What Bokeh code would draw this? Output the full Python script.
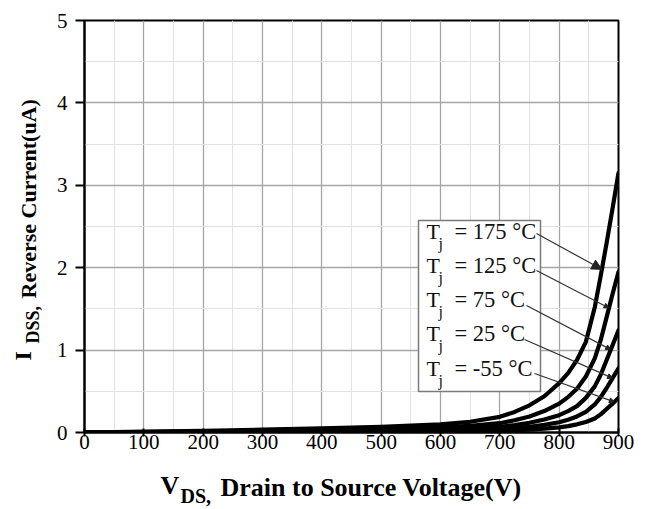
import numpy as np
from bokeh.plotting import figure
from bokeh.layouts import row, column
from bokeh.models import Range1d, FixedTicker, Label, Arrow, NormalHead, ColumnDataSource
from bokeh.core.properties import value
from bokeh.embed import file_html
from bokeh.resources import INLINE

# ---------------- data ----------------
vds = [0, 100, 200, 300, 400, 500, 600, 650, 700, 725, 750, 775, 800,
       815, 830, 845, 860, 870, 880, 890, 900]
i_175 = [0.0, 0.010, 0.020, 0.035, 0.050, 0.070, 0.100, 0.130, 0.190, 0.250, 0.330,
         0.440, 0.600, 0.720, 0.880, 1.100, 1.520, 1.900, 2.300, 2.720, 3.150]
i_125 = [0.0, 0.006, 0.012, 0.021, 0.030, 0.043, 0.062, 0.080, 0.113, 0.148, 0.195,
         0.260, 0.350, 0.430, 0.530, 0.680, 0.900, 1.120, 1.400, 1.680, 1.950]
i_75 = [0.0, 0.004, 0.008, 0.013, 0.019, 0.027, 0.039, 0.050, 0.070, 0.090, 0.118,
        0.157, 0.210, 0.260, 0.320, 0.420, 0.560, 0.700, 0.880, 1.060, 1.240]
i_25 = [0.0, 0.0025, 0.005, 0.008, 0.012, 0.017, 0.024, 0.031, 0.042, 0.054, 0.070,
        0.093, 0.125, 0.155, 0.195, 0.250, 0.340, 0.430, 0.540, 0.660, 0.780]
i_m55 = [0.0, 0.0013, 0.0026, 0.0045, 0.0065, 0.009, 0.013, 0.016, 0.021, 0.027, 0.035,
         0.046, 0.062, 0.078, 0.099, 0.128, 0.170, 0.220, 0.285, 0.350, 0.420]

temps = ["175", "125", "75", "25", "-55"]
series = [i_175, i_125, i_75, i_25, i_m55]
arrow_v = [872, 884, 887, 890, 893]

x_ticks = [0, 100, 200, 300, 400, 500, 600, 700, 800, 900]
x_minor = [50, 150, 250, 350, 450, 550, 650, 750, 850]
y_ticks = [0, 1, 2, 3, 4, 5]
y_minor = [0.5, 1.5, 2.5, 3.5, 4.5]

x_title = ["V", "DS,", "Drain to Source Voltage(V)"]
y_title = ["I", "DSS,", "Reverse Current(uA)"]

# ---------------- layout helpers (page px -> data) ----------------
def xd(px):
    return (px - 84) * 900.0 / 534.0

def yd(py):
    return (432 - py) * 5.0 / 412.0

SERIF = "Liberation Serif"
LEFT_W = 50       # width of the y-title strip
MAIN_W = 593
MAIN_H = 466
BOT_H = 42
BL = 84 - LEFT_W              # main figure left border
BR = MAIN_W - BL - 534        # main figure right border

p = figure(width=MAIN_W, height=MAIN_H, x_range=Range1d(0, 900), y_range=Range1d(0, 5),
           output_backend="svg", toolbar_location=None,
           min_border_left=BL, min_border_right=BR,
           min_border_top=20, min_border_bottom=MAIN_H - 432)
p.background_fill_color = "white"
p.border_fill_color = "white"
p.outline_line_color = "black"
p.outline_line_width = 2

p.xaxis.ticker = FixedTicker(ticks=x_ticks, minor_ticks=x_minor)
p.yaxis.ticker = FixedTicker(ticks=y_ticks, minor_ticks=y_minor)
for ax in (p.xaxis[0], p.yaxis[0]):
    ax.axis_line_width = 2
    ax.axis_line_color = "black"
    ax.major_tick_line_width = 2
    ax.major_tick_line_color = "black"
    ax.minor_tick_line_color = None
    ax.major_label_text_font = SERIF
    ax.major_label_text_font_size = "21px"
    ax.major_label_text_color = "black"
p.xaxis.major_tick_in = 4
p.xaxis.major_tick_out = 4
p.xaxis.major_label_standoff = -2
p.yaxis.major_tick_in = 0
p.yaxis.major_tick_out = 9
p.yaxis.major_label_standoff = 8

p.xgrid.grid_line_color = "#a6a6a6"
p.ygrid.grid_line_color = "#a6a6a6"
p.xgrid.grid_line_width = 1.3
p.ygrid.grid_line_width = 1.3
p.xgrid.minor_grid_line_color = "#e2e2e2"
p.ygrid.minor_grid_line_color = "#e2e2e2"
p.xgrid.minor_grid_line_width = 1
p.ygrid.minor_grid_line_width = 1

# legend box
p.quad(left=[xd(418)], right=[xd(540)], bottom=[yd(391)], top=[yd(220)],
       fill_color="white", line_color="#7a7a7a", line_width=1.5)

# curves
for s in series:
    p.line(vds, s, line_width=4.2, color="black", line_join="round", line_cap="round")

# legend texts and leader arrows
starts_px = [(536, 233), (536, 270), (526, 305), (524, 339), (534, 373)]
for k, t in enumerate(temps):
    base = 243 + k * 34.3
    p.add_layout(Label(x=xd(426), y=yd(base), text="T", text_font=SERIF,
                       text_font_size="22px", text_color="#111111"))
    p.add_layout(Label(x=xd(438), y=yd(base + 8), text="j", text_font=SERIF,
                       text_font_size="16px", text_color="#111111"))
    p.add_layout(Label(x=xd(454), y=yd(base), text="= " + t + " \u00b0C", text_font=SERIF,
                       text_font_size="22.5px", text_color="#111111"))
    sx, sy = starts_px[k]
    ve = arrow_v[k]
    ie = float(np.interp(ve, vds, series[k]))
    head = NormalHead(size=10 if k == 0 else 5, fill_color="#222222",
                      line_color="#222222", line_width=1)
    p.add_layout(Arrow(x_start=xd(sx), y_start=yd(sy), x_end=ve, y_end=ie, end=head,
                       line_color="#333333", line_width=1.2))

# ---------------- x-axis title strip (coordinates = page px) ----------------
total_h = MAIN_H + BOT_H
px_ = figure(width=MAIN_W, height=BOT_H, x_range=Range1d(84, 618),
             y_range=Range1d(total_h, MAIN_H), output_backend="svg", toolbar_location=None,
             x_axis_type=None, y_axis_type=None, min_border=0,
             min_border_left=BL, min_border_right=BR)
px_.outline_line_color = None
px_.grid.visible = False
xt_src = ColumnDataSource(dict(x=[160, 180, 220], y=[485, 495, 487], text=x_title,
                               size=["26px", "20px", "26px"]))
px_.text(x="x", y="y", text="text", source=xt_src, text_font=value(SERIF),
         text_font_style="bold", text_font_size="size", text_color="black",
         text_align="left", text_baseline="alphabetic")

# ---------------- y-axis title strip ----------------
py_ = figure(width=LEFT_W, height=MAIN_H, x_range=Range1d(0, LEFT_W),
             y_range=Range1d(MAIN_H, 0), output_backend="svg", toolbar_location=None,
             x_axis_type=None, y_axis_type=None, min_border=0)
py_.outline_line_color = None
py_.grid.visible = False
yt_src = ColumnDataSource(dict(x=[22, 32, 28], y=[360, 343, 298], text=y_title,
                               size=["24px", "18px", "22px"]))
py_.text(x="x", y="y", text="text", source=yt_src, angle=np.pi / 2, text_font=value(SERIF),
         text_font_style="bold", text_font_size="size", text_color="black",
         text_align="left", text_baseline="alphabetic")

layout = row(py_, column(p, px_))
open("out.html", "w").write(file_html(layout, INLINE))
